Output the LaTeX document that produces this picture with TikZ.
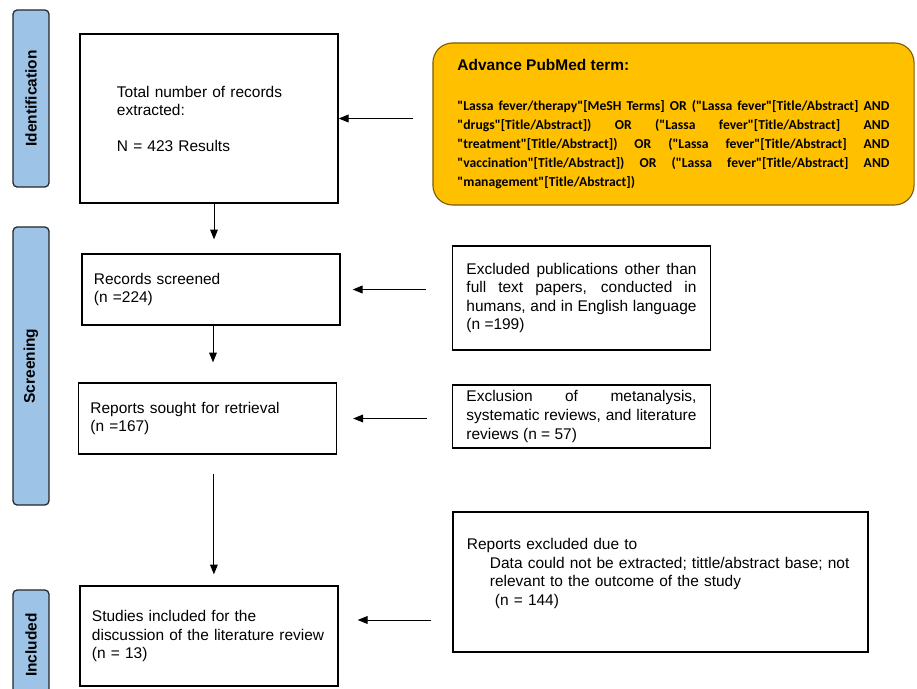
\documentclass[tikz,border=0pt]{standalone}
\usepackage{fontspec}
\setmainfont{Liberation Sans}
\newfontfamily\queryfont{Carlito}
\usetikzlibrary{positioning,arrows.meta}
\definecolor{stageblue}{RGB}{157,195,230}
\definecolor{termgold}{RGB}{255,192,0}
\definecolor{termedge}{RGB}{125,92,10}

\begin{document}
\begin{tikzpicture}[x=0.025cm, y=-0.025cm,
  every node/.style={font=\fontsize{11}{13.2}\selectfont},
  stage/.style={draw=black!85, fill=stageblue, line width=0.9pt, rounded corners=3pt,
                minimum height=0.9cm, rotate=90, font=\fontsize{11}{13}\selectfont\bfseries},
  leftbox/.style={draw, line width=0.9pt, minimum width=6.45cm, text width=5.85cm,
                  inner xsep=0.3cm, align=left},
  rightbox/.style={draw, line width=0.9pt, text width=5.75cm, inner xsep=0.35cm,
                   align=justify},
  arr/.style={-{Triangle[length=7pt,width=5.5pt]}, line width=0.7pt}
]
  % page
  \useasboundingbox (0,0) rectangle (917,689);

  % Stage labels
  \node[stage, minimum width=4.425cm] (ident)  at (31,98.5) {Identification};
  \node[stage, minimum width=6.95cm]  (screen) at (31,366) {Screening};
  \node[stage, minimum width=2.75cm]  (incl)   at (31,645) {Included};

  % Main flow
  \node[leftbox, minimum height=4.225cm, text width=4.6cm, inner xsep=0.925cm]
       (total) at (209,118.5)
       {Total number of records\\extracted:\\[12pt]N = 423 Results};
  \node[leftbox, minimum height=1.775cm] (screened) at (211,289.5)
       {Records screened\\(n =224)};
  \node[leftbox, minimum height=1.775cm] (sought) at (207.5,418.5)
       {Reports sought for retrieval\\(n =167)};
  \node[leftbox, minimum height=2.5cm] (studies) at (209,636)
       {Studies included for the\\discussion of the literature review\\(n = 13)};

  % Search term
  \node[draw=termedge, fill=termgold, line width=0.8pt, rounded corners=14pt,
        minimum width=12.025cm, minimum height=4.05cm, text width=10.8cm, align=justify]
       (pubmed) at (673.5,124)
       {{\bfseries Advance PubMed term:}\par\vspace{15pt}%
        {\queryfont\bfseries\fontsize{9.7}{13.4}\selectfont
        "Lassa fever/therapy"[MeSH Terms] OR ("Lassa fever"[Title/Abstract] AND\linebreak
        "drugs"[Title/Abstract]) OR ("Lassa fever"[Title/Abstract] AND\linebreak
        "treatment"[Title/Abstract]) OR ("Lassa fever"[Title/Abstract] AND\linebreak
        "vaccination"[Title/Abstract]) OR ("Lassa fever"[Title/Abstract] AND\linebreak
        "management"[Title/Abstract])\par}};

  % Exclusions
  \node[rightbox, minimum height=2.6cm] (exclpub) at (581.5,298)
       {Excluded publications other than\linebreak full text papers, conducted in\linebreak
        humans, and in English language\linebreak (n =199)};
  \node[rightbox, minimum height=1.575cm] (exclrev) at (581.5,416.5)
       {Exclusion of metanalysis,\linebreak systematic reviews, and literature\linebreak
        reviews (n = 57)};
  \node[draw, line width=0.9pt, minimum height=3.5cm, text width=9.675cm,
        inner xsep=0.35cm, align=left] (exclrep) at (660.5,582)
       {Reports excluded due to\\
        \hspace*{0.575cm}Data could not be extracted; tittle/abstract base; not\\
        \hspace*{0.575cm}relevant to the outcome of the study\\
        \hspace*{0.7cm}(n = 144)\rule[-0.5cm]{0pt}{0.1pt}};

  % Arrows down
  \draw[arr, shorten >=0.35cm] ([xshift=0.125cm]total.south) -- ([xshift=0.125cm]total.south |- screened.north);
  \draw[arr, shorten >=0.5cm] ([xshift=0.05cm]screened.south) -- ([xshift=0.05cm]screened.south |- sought.north);
  \draw[arr, shorten <=0.475cm, shorten >=0.275cm] ([xshift=0.16cm]sought.south) -- ([xshift=0.16cm]sought.south |- studies.north);

  % Arrows from the right
  \draw[arr, shorten <=0.475cm] (pubmed.west |- total.east) -- (total.east);
  \draw[arr, shorten <=0.65cm, shorten >=0.3cm] (exclpub.west |- screened.east) -- (screened.east);
  \draw[arr, shorten <=0.625cm, shorten >=0.4cm] (exclrev.west |- sought.east) -- (sought.east);
  \draw[arr, shorten <=0.525cm, shorten >=0.475cm] ([yshift=0.4cm]exclrep.west |- studies.east) -- ([yshift=0.4cm]studies.east);
\end{tikzpicture}
\end{document}
